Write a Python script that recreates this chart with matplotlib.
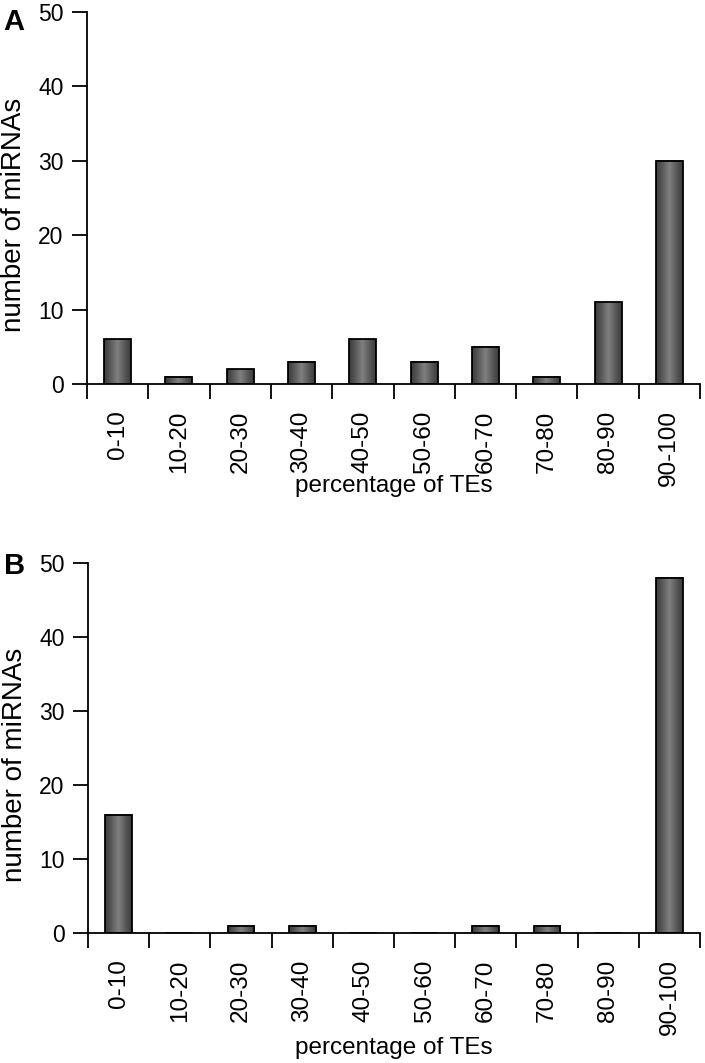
import numpy as np
import matplotlib
matplotlib.use("Agg")
import matplotlib.pyplot as plt
from matplotlib.colors import LinearSegmentedColormap

categories = ["0-10", "10-20", "20-30", "30-40", "40-50", "50-60",
              "60-70", "70-80", "80-90", "90-100"]
counts_A = [6, 1, 2, 3, 6, 3, 5, 1, 11, 30]
counts_B = [16, 0, 1, 1, 0, 0, 1, 1, 0, 48]
yticks = [0, 10, 20, 30, 40, 50]

plt.rcParams['font.family'] = ['Liberation Sans', 'DejaVu Sans']

fig = plt.figure(figsize=(7.05, 10.63), dpi=100)

W, H = 705, 1063
def rect(left, right, top, bottom):
    return [left / W, 1 - bottom / H, (right - left) / W, (bottom - top) / H]

cmap = LinearSegmentedColormap.from_list(
    "cyl", ["#3a3a3a", "#5c5c5c", "#808080", "#5c5c5c", "#3a3a3a"])
grad = np.linspace(0, 1, 64).reshape(1, -1)

def panel(ax, values, letter, xlabel_y, letter_y):
    x = np.arange(len(categories))
    bars = ax.bar(x, values, width=0.44, facecolor="none",
                  edgecolor="black", linewidth=1.3, zorder=3)
    for b in bars:
        if b.get_height() > 0:
            ax.imshow(grad, cmap=cmap, aspect="auto", zorder=2,
                      extent=[b.get_x(), b.get_x() + b.get_width(), 0, b.get_height()],
                      interpolation="bilinear")
    ax.set_xlim(-0.5, len(categories) - 0.5)
    ax.set_ylim(0, 50)
    ax.spines["top"].set_visible(False)
    ax.spines["right"].set_visible(False)
    ax.spines["left"].set_linewidth(1.3)
    ax.spines["bottom"].set_linewidth(1.3)
    ax.set_yticks(yticks)
    ax.set_yticklabels([str(v) for v in yticks], fontsize=16.5)
    ax.set_xticks(np.arange(len(categories) + 1) - 0.5)
    ax.set_xticklabels([])
    ax.set_xticks(x, minor=True)
    ax.set_xticklabels(categories, minor=True, rotation=90, fontsize=17.5)
    ax.tick_params(axis="x", which="major", direction="out", length=11, width=1.3)
    ax.tick_params(axis="x", which="minor", length=0, pad=19)
    ax.tick_params(axis="y", direction="out", length=11, width=1.3, pad=6)
    ax.set_ylabel("number of miRNAs", fontsize=20)
    ax.yaxis.set_label_coords(-0.098, 0.455)
    ax.set_xlabel("percentage of TEs", fontsize=17.5)
    ax.xaxis.set_label_coords(0.5, xlabel_y)
    ax.text(-0.137, letter_y, letter, transform=ax.transAxes, fontsize=21,
            fontweight="bold", ha="left", va="top")

axA = fig.add_axes(rect(87, 700, 12, 384))
panel(axA, counts_A, "A", -0.245, 1.012)
axB = fig.add_axes(rect(88, 700, 563, 933))
panel(axB, counts_B, "B", -0.28, 1.03)

fig.savefig("out.png", dpi=100)
